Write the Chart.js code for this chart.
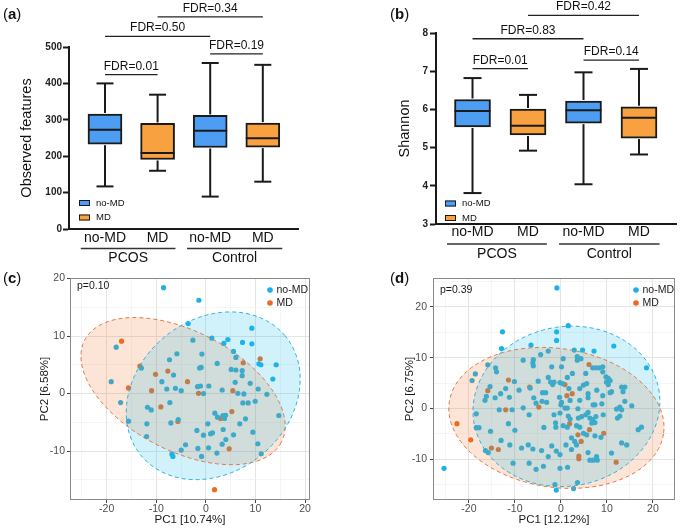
<!DOCTYPE html>
<html><head><meta charset="utf-8">
<script src="https://cdn.jsdelivr.net/npm/chart.js@4.4.1/dist/chart.umd.min.js"></script>
<style>
html,body{margin:0;padding:0;background:#fff;}
#wrap{position:relative;width:680px;height:530px;overflow:hidden;font-family:'Liberation Sans',Arial,sans-serif;}
canvas{position:absolute;}
.lab{position:absolute;font-size:15px;color:#111;line-height:15px;}
</style></head><body>
<div id="wrap">
<canvas id="ca" width="340" height="265" style="left:0;top:0"></canvas>
<canvas id="cb" width="340" height="265" style="left:340px;top:0"></canvas>
<canvas id="cc" width="340" height="265" style="left:0;top:265px"></canvas>
<canvas id="cd" width="340" height="265" style="left:340px;top:265px"></canvas>
<div class="lab" style="left:3px;top:6px">(<b>a</b>)</div>
<div class="lab" style="left:390px;top:6px">(<b>b</b>)</div>
<div class="lab" style="left:3px;top:270px">(<b>c</b>)</div>
<div class="lab" style="left:390px;top:270px">(<b>d</b>)</div>
</div>
<script>
// ---------------- data ----------------
const boxCategories = ['no-MD','MD','no-MD','MD'];
const groupNames = ['PCOS','Control'];
const legendNames = ['no-MD','MD'];

const obsMin    = [117,160, 89,130];
const obsQ1     = [233,191,224,225];
const obsMedian = [273,209,270,249];
const obsQ3     = [316,290,312,291];
const obsMax    = [400,369,456,451];

const shanMin    = [3.81,4.92,4.04,4.82];
const shanQ1     = [5.54,5.33,5.64,5.25];
const shanMedian = [5.96,5.57,5.98,5.78];
const shanQ3     = [6.26,6.01,6.22,6.07];
const shanMax    = [6.82,6.38,6.97,7.06];

const fdrPairs = [[0,1],[0,2],[2,3],[1,3]];
const obsFdrLabels  = ['FDR=0.01','FDR=0.50','FDR=0.19','FDR=0.34'];
const obsFdrLevels  = [424,529,481,583];
const shanFdrLabels = ['FDR=0.01','FDR=0.83','FDR=0.14','FDR=0.42'];
const shanFdrLevels = [7.07,7.85,7.29,8.46];

const pcaC_pValue = 'p=0.10';
const pcaD_pValue = 'p=0.39';
const pcaC_xTitle = 'PC1 [10.74%]', pcaC_yTitle = 'PC2 [6.58%]';
const pcaD_xTitle = 'PC1 [12.12%]', pcaD_yTitle = 'PC2 [6.75%]';

const pcaC_noMD = [[-8.53,18.42],[-1.41,16.23],[-3.56,12.18],[9.27,11.37],[4.43,9.41],[7.39,8.89],[9.27,8.66],[-18.08,8.08],[-2.62,9.29],[1.20,9.64],[3.62,8.72],[-5.85,6.93],[-0.81,6.87],[-7.33,5.89],[5.58,7.33],[6.05,6.29],[2.28,5.25],[10.69,5.19],[11.09,5.02],[14.18,5.02],[-13.0,4.44],[-1.28,4.44],[-0.95,4.56],[5.11,4.21],[6.05,4.10],[7.33,3.98],[7.33,3.11],[-19.09,2.07],[-8.87,2.07],[-6.52,3.23],[13.5,2.54],[-7.88,0.80],[-6.13,0.92],[-4.97,0.51],[-1.68,1.21],[-1.08,1.32],[-0.48,0.0],[0.6,1.32],[3.29,0.63],[5.91,1.96],[6.45,0.05],[7.66,-0.06],[8.94,1.78],[10.55,0.80],[12.3,-0.12],[-17.2,-1.56],[-11.77,-2.37],[-11.02,-2.83],[-7.26,-1.56],[7.46,-1.62],[8.53,-1.62],[9.95,-1.33],[1.81,-3.41],[2.35,-4.10],[3.43,-3.81],[3.76,-4.33],[3.97,-3.76],[14.72,-3.81],[-15.6,-4.80],[-11.9,-5.26],[-7.06,-5.09],[-5.58,-4.51],[0.40,-5.26],[6.85,-5.26],[7.99,-4.39],[-1.81,-6.41],[-0.48,-7.22],[0.94,-6.99],[1.34,-6.82],[3.49,-6.24],[5.58,-7.16],[9.48,-6.70],[-11.96,-7.46],[-4.1,-8.89],[-4.97,-9.82],[-1.61,-9.53],[0.54,-9.42],[3.29,-8.79],[4.03,-7.98],[10.48,-8.72],[-6.86,-10.51],[-6.65,-10.92],[-0.87,-10.92],[2.22,-10.34],[11.16,-10.46]];
const pcaC_MD = [[-17.0,9.12],[10.95,6.06],[7.53,5.36],[-13.3,4.78],[-10.15,3.35],[-7.67,3.92],[-3.70,2.07],[-15.6,0.98],[-10.95,0.51],[-1.48,0.05],[5.44,0.51],[-9.08,-2.31],[5.24,-3.12],[-5.64,-4.85],[2.96,-4.33],[4.70,-9.6],[1.75,-16.7]];

const pcaD_noMD = [[-0.87,23.75],[-18.6,6.8],[-19.3,5.5],[-18.4,-1.06],[-18.4,-3.8],[-17.8,-3.8],[-1.0,-16.1],[-25.4,-11.8],[2.75,-15.8],[-16.4,-8.3],
[-12.7,15.1],[-0.94,15.1],[1.6,16.3],[-0.94,13.4],[-12.9,11.8],[-6.5,12.5],[2.9,11.5],[4.7,11.5],[7.2,11.3],[11.5,12.3],[18.6,8.0],[-4.4,10.6],[-2.75,11.3],[-8.2,9.5],[-6.0,9.6],[-6.1,9.0],[-6.0,8.4],[0.5,9.8],[3.55,10.2],[3.55,9.5],[4.35,9.8],[-2.0,8.2],[0.14,8.2],[6.9,8.0],[7.6,8.0],[8.3,8.0],[9.1,8.2],[-14.2,8.0],[-14.0,7.2],[-15.9,8.6],[2.5,6.9],[5.4,6.9],[9.1,7.2],[9.8,6.2],[10.3,5.9],[10.7,5.5],[-2.75,6.1],[-2.25,5.2],[-1.8,4.7],[-1.5,5.2],[1.4,6.1],[0.36,4.9],[-0.2,5.1],[-9.1,3.6],[-12.0,3.9],[-15.4,4.3],[-13.1,2.9],[-4.0,3.1],[-3.3,3.1],[-5.9,2.1],[4.1,3.9],[4.9,4.6],[5.6,4.9],[5.9,2.9],[7.8,3.6],[9.9,5.2],[10.3,4.7],[13.2,4.2],[13.9,4.2],[13.5,3.3],[11.0,3.3],[4.1,1.6],[5.9,2.1],[0.14,1.2],[9.1,2.5],[-16.2,2.4],[-16.5,1.6],[-4.1,1.4],[-3.1,1.2],[13.9,1.4],
[-10.1,5.3],[-6.67,4.0],[-4.93,5.37],[-5.4,1.04],[-13.4,-0.26],[-10.6,-0.26],[-1.16,-2.84],[-14.3,2.1],[-11.2,2.2],[1.74,3.9],[10.7,3.1],[-0.3,2.2],[2.0,1.57],[8.9,0.91],[3.7,-0.07],
[-8.2,0.12],[0.0,0.7],[0.9,0.06],[1.4,0.06],[7.0,0.7],[7.4,0.7],[12.1,-0.14],[12.8,0.25],[13.2,-0.27],[15.4,0.5],[-6.9,-1.25],[-1.5,-1.25],[-0.2,-0.9],[1.6,-1.5],[2.0,-2.1],[3.8,-1.9],[4.5,-1.6],[5.4,-1.25],[5.9,-0.8],[6.3,-1.9],[6.9,-2.2],[7.4,-2.8],[6.7,-2.9],[7.6,-1.6],[9.2,-1.25],[12.3,-1.9],[12.8,-1.5],[-11.4,-3.0],[-15.3,-4.5],[-10.0,-4.3],[-3.7,-3.75],[-1.1,-3.7],[0.5,-3.4],[1.4,-3.7],[3.4,-3.4],[4.1,-3.7],[4.9,-4.9],[5.6,-5.2],[7.4,-5.4],[8.7,-5.7],[2.3,-5.8],[3.0,-6.5],[1.1,-7.2],[3.4,-7.2],[-13.0,-6.3],[-11.1,-7.2],[-7.1,-7.2],[-8.55,-7.8],[-2.0,-7.4],[2.3,-8.1],[-15.8,-8.7],[-4.2,-8.3],[-2.75,-9.5],[-0.2,-9.1],[5.9,-8.7],[7.75,-9.5],[6.3,-10.2],[7.0,-10.2],[7.9,-10.2],[11.0,-8.8],[13.2,-6.8],[14.3,-7.2],[16.8,-4.2],[17.5,-3.7],[-10.4,-10.8],[-6.9,-10.8],[-5.4,-12.0],[-3.8,-11.4],[-0.2,-11.8],[1.45,-11.6],[3.6,-14.6],[-1.3,-15.0],[-6.09,-8.0],[-1.0,-8.4]];
const pcaD_MD = [[-22.6,-3.0],[-19.6,-6.2],[-15.9,3.5],[-11.4,5.6],[-6.8,4.2],[-12.0,-0.27],[-4.8,0.26],[-15.1,-7.8],[-13.6,-8.1],[6.1,8.65],[0.87,4.7],[2.46,2.9],[1.3,2.5],[1.9,-3.0],[6.2,-4.2],[9.3,-4.9],[3.7,-5.2],[4.4,-6.5],[3.9,-9.4],[3.9,-9.9],[12.0,-10.6]];

// confidence ellipses: centre and two conjugate semi-axis vectors (data units)
const ellC_noMD_centre = [1.48,-0.38], ellC_noMD_u = [14.43,10.50], ellC_noMD_v = [9.97,-10.12];
const ellC_MD_centre   = [-4.6,0.43],  ellC_MD_u   = [19.82,-8.90], ellC_MD_v   = [-5.59,-9.19];
const ellD_noMD_centre = [1.2,0.4],    ellD_noMD_u = [20.05,3.457], ellD_noMD_v = [3.244,-15.43];
const ellD_MD_centre   = [-0.98,-1.87],ellD_MD_u   = [23.28,-3.155],ellD_MD_v   = [-2.236,-13.53];

// ---------------- styling ----------------
const FONT = "'Liberation Sans', Arial, sans-serif";
Chart.defaults.font.family = FONT;
const INK = '#1a1a1a';
const BOX_BLUE = '#4d9df2', BOX_ORANGE = '#f8a140';
const PT_BLUE = '#1cb1e6', PT_ORANGE = '#ec6a22';

function seg(ctx,x1,y1,x2,y2){ctx.beginPath();ctx.moveTo(x1,y1);ctx.lineTo(x2,y2);ctx.stroke();}

function boxChart(id, cfg){
  const colors = boxCategories.map((c,i)=> i%2===0 ? BOX_BLUE : BOX_ORANGE);
  const data = boxCategories.map((c,i)=>({x:i, y:[cfg.q1[i], cfg.q3[i]]}));
  const plugin = {id:'boxextras', afterDatasetsDraw(chart){
    const {ctx, scales:{x,y}, chartArea:ca} = chart;
    ctx.save();
    ctx.strokeStyle = INK; ctx.lineWidth = 2;
    const cap = cfg.barW/4;
    for (let i=0;i<boxCategories.length;i++){
      const cx = x.getPixelForValue(i);
      const yMin = y.getPixelForValue(cfg.min[i]), yMax = y.getPixelForValue(cfg.max[i]);
      seg(ctx,cx,y.getPixelForValue(cfg.q1[i])+1,cx,yMin);
      seg(ctx,cx-cap,yMin,cx+cap,yMin);
      seg(ctx,cx,y.getPixelForValue(cfg.q3[i])-1,cx,yMax);
      seg(ctx,cx-cap,yMax,cx+cap,yMax);
      const ym = y.getPixelForValue(cfg.med[i]);
      seg(ctx,cx-cfg.barW/2,ym,cx+cfg.barW/2,ym);
    }
    // FDR brackets
    ctx.lineWidth = 1.3; ctx.strokeStyle = '#222'; ctx.fillStyle = '#111';
    ctx.font = '12px ' + FONT; ctx.textAlign = 'center'; ctx.textBaseline = 'alphabetic';
    fdrPairs.forEach((p,k)=>{
      const x1 = x.getPixelForValue(p[0]), x2 = x.getPixelForValue(p[1]);
      const yy = y.getPixelForValue(cfg.fdrLevels[k]);
      seg(ctx,x1,yy,x2,yy);
      ctx.fillText(cfg.fdrLabels[k],(x1+x2)/2,yy-5);
    });
    // group lines
    ctx.lineWidth = 1.6; ctx.strokeStyle = '#333';
    ctx.font = '14px ' + FONT; ctx.textBaseline = 'middle';
    cfg.groupSpans.forEach((s,g)=>{
      const x1 = x.getPixelForValue(s[0]), x2 = x.getPixelForValue(s[1]);
      const gy = ca.bottom + cfg.groupLineDy;
      seg(ctx,x1,gy,x2,gy);
      ctx.fillText(groupNames[g],(x1+x2)/2,ca.bottom + cfg.groupLabelDy);
    });
    // legend
    ctx.font = '9.5px ' + FONT; ctx.textAlign = 'left'; ctx.lineWidth = 1; ctx.strokeStyle = INK;
    legendNames.forEach((n,k)=>{
      const ly = cfg.legY + k*cfg.legGap;
      ctx.fillStyle = k===0 ? BOX_BLUE : BOX_ORANGE;
      ctx.fillRect(cfg.legX, ly-3, 11, 6);
      ctx.strokeRect(cfg.legX+0.5, ly-2.5, 10, 5);
      ctx.fillStyle = '#111';
      ctx.fillText(n, cfg.legX+17, ly);
    });
    ctx.restore();
  }};
  return new Chart(document.getElementById(id), {
    type:'bar',
    data:{datasets:[{data, backgroundColor:colors, borderColor:INK, borderWidth:2, borderSkipped:false, barThickness:cfg.barW}]},
    options:{
      responsive:false, animation:false, events:[],
      layout:{padding:cfg.padding},
      plugins:{legend:{display:false}, tooltip:{enabled:false}},
      scales:{
        x:{type:'linear', min:cfg.xMin, max:cfg.xMax, offset:false,
          afterBuildTicks:(s)=>{s.ticks = boxCategories.map((c,i)=>({value:i}));},
          ticks:{callback:(v)=>boxCategories[v], autoSkip:false, maxRotation:0, minRotation:0, padding:cfg.xTickPad, font:{size:14}, color:'#111'},
          grid:{display:false, drawTicks:false, offset:false},
          border:{display:true, color:INK, width:2},
          afterFit:(s)=>{s.height = cfg.xH;}},
        y:{min:cfg.yMin, max:cfg.yMax,
          ticks:{stepSize:cfg.yStep, font:{size:10, weight:'bold'}, color:'#222', padding:cfg.yTickPad},
          grid:{display:true, drawOnChartArea:false, drawTicks:true, tickLength:6, tickColor:INK, tickWidth:2},
          border:{display:true, color:INK, width:2},
          title:{display:true, text:cfg.title, font:{size:14.5}, color:'#111', padding:{top:cfg.titlePad, bottom:0}},
          afterFit:(s)=>{s.width = cfg.yW;}}
      }
    },
    plugins:[plugin]
  });
}

boxChart('ca',{min:obsMin,q1:obsQ1,med:obsMedian,q3:obsQ3,max:obsMax,
  yMin:0,yMax:500,yStep:100,title:'Observed features',
  fdrLabels:obsFdrLabels,fdrLevels:obsFdrLevels,
  xMin:-0.684,xMax:3.669,barW:34,
  padding:{left:0,top:47,right:42,bottom:0},xH:36,yW:69,
  xTickPad:1,yTickPad:1,titlePad:18,
  groupSpans:[[-0.46,1.34],[1.56,3.37]],groupLineDy:19.5,groupLabelDy:29,
  legX:79,legY:203,legGap:14.5});

boxChart('cb',{min:shanMin,q1:shanQ1,med:shanMedian,q3:shanQ3,max:shanMax,
  yMin:3,yMax:8,yStep:1,title:'Shannon',
  fdrLabels:shanFdrLabels,fdrLevels:shanFdrLevels,
  xMin:-0.658,xMax:3.667,barW:36,
  padding:{left:0,top:33,right:4,bottom:0},xH:41,yW:96,
  xTickPad:0,yTickPad:2,titlePad:56,
  groupSpans:[[-0.46,1.34],[1.56,3.37]],groupLineDy:20,groupLabelDy:30,
  legX:105,legY:203.5,legGap:14.5});

function pcaChart(id, cfg){
  const isMajor = (v)=> Math.abs(v % 10) < 1e-9;
  const axisCommon = {
    ticks:{stepSize:5, includeBounds:false, autoSkip:false, maxRotation:0, minRotation:0,
      callback:(v)=> isMajor(v) ? String(v) : '', color:'#4d4d4d', font:{size:10.5}},
    grid:{display:true, drawTicks:true, tickLength:3,
      color:(c)=> c.tick && isMajor(c.tick.value) ? '#e4e4e4' : '#f1f1f1',
      lineWidth:(c)=> c.tick && isMajor(c.tick.value) ? 1 : 0.7,
      tickColor:(c)=> c.tick && isMajor(c.tick.value) ? '#444' : 'rgba(0,0,0,0)', tickWidth:1},
    border:{display:false}
  };
  function ellipse(ctx,x,y,c,u,v){
    ctx.beginPath();
    for (let k=0;k<=144;k++){
      const t = k/144*Math.PI*2;
      const px = x.getPixelForValue(c[0]+u[0]*Math.cos(t)+v[0]*Math.sin(t));
      const py = y.getPixelForValue(c[1]+u[1]*Math.cos(t)+v[1]*Math.sin(t));
      if(k===0) ctx.moveTo(px,py); else ctx.lineTo(px,py);
    }
    ctx.closePath();
  }
  const plugin = {id:'pcaextras',
    afterDatasetsDraw(chart){
      const {ctx, scales:{x,y}, chartArea:ca} = chart;
      ctx.save();
      ctx.beginPath(); ctx.rect(ca.left,ca.top,ca.width,ca.height); ctx.clip();
      ellipse(ctx,x,y,cfg.ellMD[0],cfg.ellMD[1],cfg.ellMD[2]);
      ctx.fillStyle='rgba(240,120,50,0.2)'; ctx.fill();
      ellipse(ctx,x,y,cfg.ellNo[0],cfg.ellNo[1],cfg.ellNo[2]);
      ctx.fillStyle='rgba(30,190,235,0.2)'; ctx.fill();
      ctx.setLineDash([4,3]); ctx.lineWidth=1;
      ellipse(ctx,x,y,cfg.ellMD[0],cfg.ellMD[1],cfg.ellMD[2]);
      ctx.strokeStyle='#e0784a'; ctx.stroke();
      ellipse(ctx,x,y,cfg.ellNo[0],cfg.ellNo[1],cfg.ellNo[2]);
      ctx.strokeStyle='#2cb3da'; ctx.stroke();
      ctx.restore();
    },
    afterDraw(chart){
      const {ctx, chartArea:ca} = chart;
      ctx.save();
      ctx.strokeStyle='#8a8a8a'; ctx.lineWidth=1;
      ctx.strokeRect(Math.round(ca.left)+0.5,Math.round(ca.top)+0.5,Math.round(ca.width)-1,Math.round(ca.height)-1);
      ctx.fillStyle='#1a1a1a'; ctx.font='10.5px '+FONT; ctx.textBaseline='middle'; ctx.textAlign='left';
      ctx.fillText(cfg.pText, ca.left+7, ca.top+cfg.pDy);
      legendNames.forEach((n,k)=>{
        const ly = ca.top + 12 + k*13;
        ctx.fillStyle = k===0 ? PT_BLUE : PT_ORANGE;
        ctx.beginPath(); ctx.arc(ca.right - cfg.legRight, ly, 2.8, 0, Math.PI*2); ctx.fill();
        ctx.fillStyle='#1a1a1a'; ctx.font='10.5px '+FONT;
        ctx.fillText(n, ca.right - cfg.legRight + 6.5, ly);
      });
      ctx.restore();
    }
  };
  return new Chart(document.getElementById(id), {
    type:'scatter',
    data:{datasets:[
      {data:cfg.noMD.map(p=>({x:p[0],y:p[1]})), backgroundColor:PT_BLUE, borderWidth:0, pointRadius:2.6},
      {data:cfg.md.map(p=>({x:p[0],y:p[1]})), backgroundColor:PT_ORANGE, borderWidth:0, pointRadius:2.6}
    ]},
    options:{
      responsive:false, animation:false, events:[],
      layout:{padding:cfg.padding},
      plugins:{legend:{display:false}, tooltip:{enabled:false}},
      scales:{
        x:{type:'linear', min:cfg.xMin, max:cfg.xMax,
          title:{display:true, text:cfg.xTitle, font:{size:11.5}, color:'#1a1a1a', padding:{top:0,bottom:3}},
          afterFit:(s)=>{s.height = cfg.xH;},
          ticks:Object.assign({}, axisCommon.ticks, {padding:0}), grid:axisCommon.grid, border:axisCommon.border},
        y:{type:'linear', min:cfg.yMin, max:cfg.yMax,
          title:{display:true, text:cfg.yTitle, font:{size:11.5}, color:'#1a1a1a', padding:{top:cfg.yTitlePad,bottom:0}},
          afterFit:(s)=>{s.width = cfg.yW;},
          ticks:Object.assign({}, axisCommon.ticks, {padding:cfg.yTickPad}), grid:axisCommon.grid, border:axisCommon.border}
      }
    },
    plugins:[plugin]
  });
}

pcaChart('cc',{noMD:pcaC_noMD, md:pcaC_MD,
  ellNo:[ellC_noMD_centre,ellC_noMD_u,ellC_noMD_v], ellMD:[ellC_MD_centre,ellC_MD_u,ellC_MD_v],
  xMin:-27.4,xMax:21.0,yMin:-18.5,yMax:20.1,
  xTitle:pcaC_xTitle,yTitle:pcaC_yTitle,pText:pcaC_pValue,pDy:8,
  padding:{left:0,top:13,right:30,bottom:0},xH:30,yW:70,yTickPad:2,yTitlePad:38,legRight:40});

pcaChart('cd',{noMD:pcaD_noMD, md:pcaD_MD,
  ellNo:[ellD_noMD_centre,ellD_noMD_u,ellD_noMD_v], ellMD:[ellD_MD_centre,ellD_MD_u,ellD_MD_v],
  xMin:-27.8,xMax:24.8,yMin:-18.05,yMax:25.7,
  xTitle:pcaD_xTitle,yTitle:pcaD_yTitle,pText:pcaD_pValue,pDy:12,
  padding:{left:0,top:13,right:5,bottom:0},xH:30,yW:93,yTickPad:3,yTitlePad:63,legRight:39});
</script>
</body></html>
